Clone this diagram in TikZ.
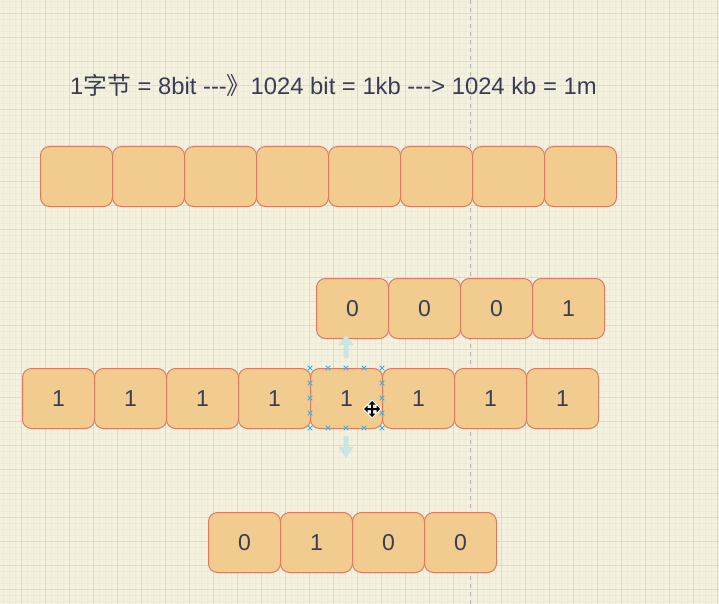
\documentclass[tikz,border=0pt]{standalone}
\usepackage{fontspec}
\setmainfont{Liberation Sans}
\newfontfamily\cjk{Noto Sans CJK SC}
\newcommand\hy{\mbox{-}}
\definecolor{bgc}{HTML}{F4F1DE}
\definecolor{gridmajor}{HTML}{DFDBC6}
\definecolor{gridminor}{HTML}{EEEAD7}
\definecolor{cellfill}{HTML}{F2CC8F}
\definecolor{cellstroke}{HTML}{E07A5F}
\definecolor{celltext}{HTML}{393C56}
\definecolor{handle}{HTML}{29B6F2}
\definecolor{hint}{HTML}{CBE5E2}
\definecolor{guide}{HTML}{B4B4B4}
\tikzset{
  cell/.style={rectangle, rounded corners=9pt, draw=cellstroke, fill=cellfill,
    line width=1pt, minimum width=72pt, minimum height=60pt, inner sep=0pt,
    anchor=north west, text=celltext, font=\fontsize{23}{27}\selectfont},
  headline/.style={anchor=base west, inner sep=0pt, text=celltext,
    font=\fontsize{23.8}{28}\selectfont},
  handlemark/.style={draw=handle, line width=0.9pt},
  hintarrow/.style={fill=hint, draw=none},
}
\begin{document}
\begin{tikzpicture}[x=1pt,y=-1pt]
\useasboundingbox (0,0) rectangle (719,604);
\fill[bgc] (0,0) rectangle (719,604);
% grid
\foreach \gx in {3,9,...,719} \draw[gridminor, line width=0.5pt] (\gx,0) -- (\gx,604);
\foreach \gy in {1,7,...,604} \draw[gridminor, line width=0.5pt] (0,\gy) -- (719,\gy);
\foreach \gx in {21,45,...,719} \draw[gridmajor, line width=0.8pt] (\gx,0) -- (\gx,604);
\foreach \gy in {13,37,...,604} \draw[gridmajor, line width=0.8pt] (0,\gy) -- (719,\gy);
% guide line
\coordinate (gtop) at (470.5,0);
\coordinate (gbot) at (470.5,604);
\draw[guide, line width=0.8pt, dash pattern=on 4pt off 4pt] (gtop) -- (gbot);
% heading
\node[headline] (head) at (70,94.5) {1{\cjk 字节} = 8bit \hy\hy\hy{\cjk 》}1024 bit = 1kb \hy\hy\hy> 1024 kb = 1m};
% row 1
\foreach \i/\xx in {1/40,2/112,3/184,4/256,5/328,6/400,7/472,8/544}
  \node[cell] (a\i) at (\xx,146) {};
% row 2
\foreach \i/\xx/\t in {1/316/0,2/388/0,3/460/0,4/532/1}
  \node[cell] (b\i) at (\xx,278) {\t};
% row 3
\foreach \i/\xx in {1/22,2/94,3/166,4/238,5/310,6/382,7/454,8/526}
  \node[cell] (c\i) at (\xx,368) {1};
% row 4
\foreach \i/\xx/\t in {1/208/0,2/280/1,3/352/0,4/424/0}
  \node[cell] (d\i) at (\xx,512) {\t};
% hint arrows
\fill[hintarrow] (346,335) -- (353.5,345) -- (348.5,345) -- (348.5,358) -- (343.5,358) -- (343.5,345) -- (338.5,345) -- cycle;
\fill[hintarrow] (346,458) -- (353.5,447) -- (348.5,447) -- (348.5,436) -- (343.5,436) -- (343.5,447) -- (338.5,447) -- cycle;
% selection handles
\foreach \hx in {310,328,346,364,382}
  \foreach \hy in {368,428}
    \draw[handlemark] (\hx-2.3,\hy-2.3) -- (\hx+2.3,\hy+2.3) (\hx-2.3,\hy+2.3) -- (\hx+2.3,\hy-2.3);
\foreach \hx in {310,382}
  \foreach \hy in {383,398,413}
    \draw[handlemark] (\hx-2.3,\hy-2.3) -- (\hx+2.3,\hy+2.3) (\hx-2.3,\hy+2.3) -- (\hx+2.3,\hy-2.3);
% move cursor
\begin{scope}[shift={(372,409)}]
\def\cursorpath{(0,-8) -- (3.5,-4.5) -- (1,-4.5) -- (1,-1) -- (4.5,-1) -- (4.5,-3.5) -- (8,0) -- (4.5,3.5) -- (4.5,1) -- (1,1) -- (1,4.5) -- (3.5,4.5) -- (0,8) -- (-3.5,4.5) -- (-1,4.5) -- (-1,1) -- (-4.5,1) -- (-4.5,3.5) -- (-8,0) -- (-4.5,-3.5) -- (-4.5,-1) -- (-1,-1) -- (-1,-4.5) -- (-3.5,-4.5) -- cycle}
\draw[white, line width=2.4pt, line join=round] \cursorpath;
\fill[black] \cursorpath;
\end{scope}
\end{tikzpicture}
\end{document}
